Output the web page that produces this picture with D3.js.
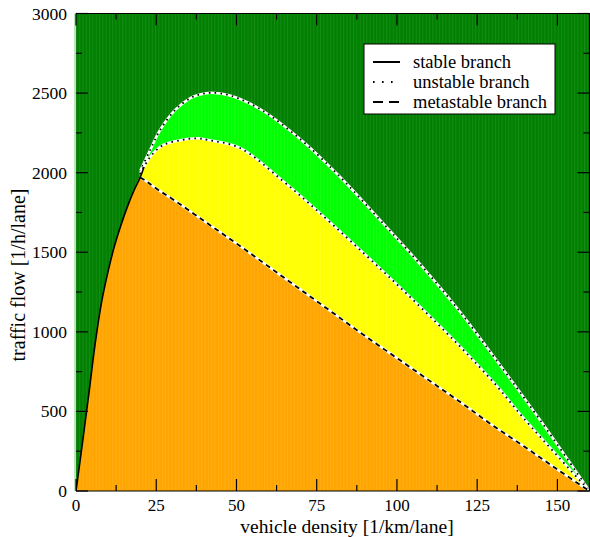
<!DOCTYPE html>
<html><head><meta charset="utf-8">
<script src="https://cdn.jsdelivr.net/npm/d3@7/dist/d3.min.js"></script>
<style>body{margin:0;background:#fff}svg{display:block}</style>
</head><body><svg id="c" width="590" height="537" font-family="'Liberation Serif', 'Times New Roman', serif"></svg>
<script>
// ---- data ----
const xTicks = [0, 25, 50, 75, 100, 125, 150];
const yTicks = [0, 500, 1000, 1500, 2000, 2500, 3000];
const stableRho = [0, 2, 4, 6, 8, 10, 12, 14, 16, 18, 20];
const stableQ   = [0, 300, 610, 930, 1190, 1380, 1540, 1670, 1785, 1885, 1970];
const metaRho = [20, 22, 25, 30, 40, 50, 60, 70, 80, 90, 100, 110, 120, 130, 140, 150, 160];
const metaQ   = [1970, 1945, 1900, 1835, 1695, 1555, 1410, 1265, 1120, 975, 835, 695, 555, 410, 275, 135, 0];
const unstRho = [19.9, 21.5, 23.6, 27.2, 32.9, 37.6, 41.2, 51.1, 64.1, 75.5, 94.7, 107.2, 119.7, 131.1, 139.4, 160];
const unstQ   = [1992, 2048, 2111, 2174, 2205, 2216, 2205, 2155, 1954, 1755, 1399, 1158, 907, 660, 459, 0];
const upperRho = [19.9, 23.1, 26.2, 30.9, 35.5, 38.6, 42.1, 48, 57.3, 69.8, 82.3, 94.7, 107.2, 119.7, 132.1, 144.6, 160];
const upperQ   = [2006, 2142, 2268, 2394, 2467, 2491, 2502, 2485, 2400, 2212, 1973, 1703, 1426, 1125, 792, 446, 0];
const legendLabels = ["stable branch", "unstable branch", "metastable branch"];
const xTitle = "vehicle density [1/km/lane]";
const yTitle = "traffic flow [1/h/lane]";

// ---- layout ----
const L = 76, R = 589.5, T = 13.5, B = 491;
const x = d3.scaleLinear().domain([0, 160]).range([L, R]);
const y = d3.scaleLinear().domain([0, 3000]).range([B, T]);
const svg = d3.select("#c");
const zip = (a, b) => a.map((v, i) => [v, b[i]]);

const defs = svg.append("defs");
const pat = defs.append("pattern").attr("id", "stripes").attr("patternUnits", "userSpaceOnUse")
  .attr("width", 3.3).attr("height", 10);
pat.append("rect").attr("x", 0).attr("y", 0).attr("width", 1).attr("height", 10)
  .attr("fill", "#fff").attr("opacity", 0.09);
defs.append("clipPath").attr("id", "clip").append("rect")
  .attr("x", L).attr("y", T).attr("width", R - L).attr("height", B - T);

const g = svg.append("g").attr("clip-path", "url(#clip)");
g.append("rect").attr("x", L).attr("y", T).attr("width", R - L).attr("height", B - T).attr("fill", "#008000");

const crv = d3.curveCatmullRom.alpha(0.5);
const area = d3.area().x(d => x(d[0])).y0(y(0)).y1(d => y(d[1])).curve(crv);
const line = d3.line().x(d => x(d[0])).y(d => y(d[1])).curve(crv);

const upperPts = zip(upperRho, upperQ);
const unstPts = zip(unstRho, unstQ);
const stablePts = zip(stableRho, stableQ);
const metaPts = zip(metaRho, metaQ);
const orangePts = stablePts.concat(metaPts.slice(1));

g.append("path").attr("d", area(upperPts)).attr("fill", "#00ff00");
g.append("path").attr("d", area(unstPts)).attr("fill", "#ffff00");
g.append("path").attr("d", area(orangePts)).attr("fill", "#ffa500");
g.append("rect").attr("x", L).attr("y", T).attr("width", R - L).attr("height", B - T).attr("fill", "url(#stripes)");

// lines
function whiteBacked(pts, dash, w) {
  g.append("path").attr("d", line(pts)).attr("fill", "none").attr("stroke", "#fff").attr("stroke-width", 2.6);
  g.append("path").attr("d", line(pts)).attr("fill", "none").attr("stroke", "#000").attr("stroke-width", w)
    .attr("stroke-dasharray", dash);
}
whiteBacked(upperPts, "1.6,4.2", 1.8);
whiteBacked(unstPts, "1.6,4.2", 1.8);
whiteBacked(metaPts, "5,4", 1.8);
g.append("path").attr("d", line(stablePts.concat([[21.2, 2035]]))).attr("fill", "none")
  .attr("stroke", "#000").attr("stroke-width", 1.6);

// frame and ticks
const fr = svg.append("g");
fr.append("path").attr("d", `M${L},${T}H${R}V${B}H${L}`)
  .attr("fill", "none").attr("stroke", "#000").attr("stroke-width", 1.2);
fr.append("line").attr("x1", L - 1).attr("x2", L - 1).attr("y1", T).attr("y2", B)
  .attr("stroke", "#8fd48f").attr("stroke-width", 1.2);
const tk = (x1, y1, x2, y2) => fr.append("line").attr("x1", x1).attr("y1", y1).attr("x2", x2).attr("y2", y2)
  .attr("stroke", "#000").attr("stroke-width", 1.2);
for (let v = 0; v <= 160; v += 12.5) {
  const len = (v % 25 === 0) ? 12 : 6;
  tk(x(v), B, x(v), B - len); tk(x(v), T, x(v), T + len);
}
for (let v = 0; v <= 3000; v += 250) {
  const len = (v % 500 === 0) ? 12 : 6;
  tk(L, y(v), L + len, y(v)); tk(R, y(v), R - len, y(v));
}
svg.selectAll(".xl").data(xTicks).enter().append("text")
  .attr("x", d => x(d)).attr("y", 511).attr("text-anchor", "middle").attr("font-size", 17).text(d => d);
svg.selectAll(".yl").data(yTicks).enter().append("text")
  .attr("x", 67).attr("y", d => y(d) + 6).attr("text-anchor", "end").attr("font-size", 17.5).text(d => d);
svg.append("text").attr("x", 347).attr("y", 533).attr("text-anchor", "middle").attr("font-size", 19.5).text(xTitle);
svg.append("text").attr("transform", "translate(25,275) rotate(-90)").attr("text-anchor", "middle")
  .attr("font-size", 20).text(yTitle);

// legend
const lg = svg.append("g");
lg.append("rect").attr("x", 364).attr("y", 44).attr("width", 191).attr("height", 70)
  .attr("fill", "#fff").attr("stroke", "#000").attr("stroke-width", 1);
const dashes = [null, "1.6,7.4", "10,6"];
legendLabels.forEach((lab, i) => {
  const yy = 62 + i * 20;
  const l = lg.append("line").attr("x1", 373).attr("x2", 400).attr("y1", yy).attr("y2", yy)
    .attr("stroke", "#000").attr("stroke-width", 2);
  if (dashes[i]) l.attr("stroke-dasharray", dashes[i]);
  lg.append("text").attr("x", 413).attr("y", yy + 6).attr("font-size", 18.5).text(lab);
});
</script></body></html>
